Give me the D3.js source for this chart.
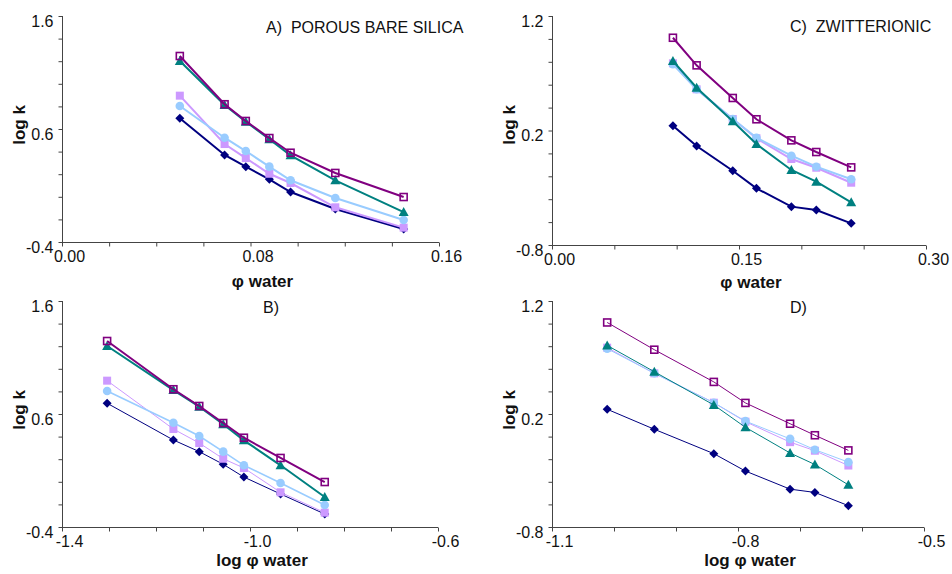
<!DOCTYPE html>
<html>
<head>
<meta charset="utf-8">
<script src="https://cdn.jsdelivr.net/npm/d3@7"></script>
<style>
  body { margin: 0; background: #fff; }
  svg { display: block; font-family: "Liberation Sans", Arial, sans-serif; }
</style>
</head>
<body>
<div id="chart"></div>
<script>
var w = 952;
var h = 574;

// x values
var phiBare = [0.050, 0.069, 0.078, 0.088, 0.097, 0.116, 0.145];
var logPhiBare = [-1.304, -1.163, -1.108, -1.057, -1.013, -0.935, -0.841];
var phiZwit = [0.097, 0.116, 0.145, 0.164, 0.192, 0.212, 0.240];
var logPhiZwit = [-1.011, -0.935, -0.839, -0.788, -0.716, -0.676, -0.622];

// log k, porous bare silica (panels A and B)
var bareNavy = [0.695, 0.370, 0.267, 0.155, 0.042, -0.108, -0.285];
var bareLilac = [0.895, 0.467, 0.343, 0.204, 0.122, -0.093, -0.273];
var bareSky = [0.804, 0.523, 0.405, 0.267, 0.146, -0.011, -0.205];
var bareTeal = [1.202, 0.812, 0.665, 0.509, 0.367, 0.146, -0.135];
var barePurple = [1.246, 0.819, 0.671, 0.520, 0.390, 0.211, -0.002];

// log k, zwitterionic (panels C and D)
var zwitNavy = [0.242, 0.065, -0.151, -0.305, -0.465, -0.494, -0.611];
var zwitLilac = [0.787, 0.560, 0.300, 0.132, -0.049, -0.125, -0.256];
var zwitSky = [0.778, 0.560, 0.300, 0.137, -0.020, -0.116, -0.226];
var zwitTeal = [0.807, 0.574, 0.280, 0.082, -0.145, -0.247, -0.427];
var zwitPurple = [1.010, 0.769, 0.484, 0.298, 0.114, 0.012, -0.122];

// series styles (drawing order: first is at the bottom)
var seriesStyle = [
  { color: "#000080", marker: "diamond" },
  { color: "#cc99ff", marker: "square" },
  { color: "#99ccff", marker: "circle" },
  { color: "#008080", marker: "triangle" },
  { color: "#800080", marker: "open" }
];

var panels = [
  { name: "A)  POROUS BARE SILICA", nameX: 266, nameY: 33,
    left: 62, right: 439, top: 16, bottom: 242, titleY: 287,
    xDom: [0, 0.16], xStep: 0.02, xLabels: [0, 0.08, 0.16], xFmt: ".2f",
    yDom: [-0.4, 1.6], yStep: 0.2, yLabels: [-0.4, 0.6, 1.6],
    xTitle: "φ water", xs: phiBare,
    ys: [bareNavy, bareLilac, bareSky, bareTeal, barePurple],
    widths: [2, 2, 2, 2, 2] },
  { name: "B)", nameX: 263, nameY: 313,
    left: 62, right: 438, top: 301, bottom: 527, titleY: 566,
    xDom: [-1.4, -0.6], xStep: 0.1, xLabels: [-1.4, -1.0, -0.6], xFmt: ".1f",
    yDom: [-0.4, 1.6], yStep: 0.2, yLabels: [-0.4, 0.6, 1.6],
    xTitle: "log φ water", xs: logPhiBare,
    ys: [bareNavy, bareLilac, bareSky, bareTeal, barePurple],
    widths: [1, 1, 1.6, 2, 2] },
  { name: "C)  ZWITTERIONIC", nameX: 790, nameY: 32,
    left: 552, right: 926, top: 16, bottom: 245, titleY: 288,
    xDom: [0, 0.30], xStep: 0.05, xLabels: [0, 0.15, 0.30], xFmt: ".2f",
    yDom: [-0.8, 1.2], yStep: 0.2, yLabels: [-0.8, 0.2, 1.2],
    xTitle: "φ water", xs: phiZwit,
    ys: [zwitNavy, zwitLilac, zwitSky, zwitTeal, zwitPurple],
    widths: [2, 2, 2, 2, 2] },
  { name: "D)", nameX: 790, nameY: 313,
    left: 552, right: 924, top: 301, bottom: 527, titleY: 566,
    xDom: [-1.1, -0.5], xStep: 0.1, xLabels: [-1.1, -0.8, -0.5], xFmt: ".1f",
    yDom: [-0.8, 1.2], yStep: 0.2, yLabels: [-0.8, 0.2, 1.2],
    xTitle: "log φ water", xs: logPhiZwit,
    ys: [zwitNavy, zwitLilac, zwitSky, zwitTeal, zwitPurple],
    widths: [1, 1, 1, 1, 1] }
];

var svg = d3.select("#chart")
  .append("svg")
  .attr("width", w)
  .attr("height", h);

function isLabel(list, v) {
  return list.some(function (l) { return Math.abs(l - v) < 1e-6; });
}

function drawMarker(g, kind, color, x, y) {
  if (kind == "diamond") {
    g.append("path")
      .attr("d", "M" + x + "," + (y - 4.5) + "L" + (x + 4.5) + "," + y + "L" + x + "," + (y + 4.5) + "L" + (x - 4.5) + "," + y + "Z")
      .attr("fill", color);
  } else if (kind == "square") {
    g.append("rect")
      .attr("x", x - 4).attr("y", y - 4)
      .attr("width", 8).attr("height", 8)
      .attr("fill", color);
  } else if (kind == "circle") {
    g.append("circle")
      .attr("cx", x).attr("cy", y).attr("r", 4.3)
      .attr("fill", color);
  } else if (kind == "triangle") {
    g.append("path")
      .attr("d", "M" + x + "," + (y - 5) + "L" + (x + 5) + "," + (y + 4) + "L" + (x - 5) + "," + (y + 4) + "Z")
      .attr("fill", color);
  } else {
    g.append("rect")
      .attr("x", x - 3.5).attr("y", y - 3.5)
      .attr("width", 7).attr("height", 7)
      .attr("fill", "none")
      .attr("stroke", color)
      .attr("stroke-width", 1.6);
  }
}

panels.forEach(function (p) {
  var x = d3.scaleLinear().domain(p.xDom).range([p.left, p.right]);
  var y = d3.scaleLinear().domain(p.yDom).range([p.bottom, p.top]);

  var xTicks = d3.range(p.xDom[0], p.xDom[1] + p.xStep / 2, p.xStep);
  var yTicks = d3.range(p.yDom[0], p.yDom[1] + p.yStep / 2, p.yStep);
  var fx = d3.format(p.xFmt);
  var fy = d3.format(".1f");

  var g = svg.append("g");

  // x axis
  var xAxis = g.append("g")
    .attr("transform", "translate(0," + (p.bottom + 0.5) + ")")
    .call(d3.axisBottom(x)
      .tickValues(xTicks)
      .tickSize(4)
      .tickPadding(4)
      .tickFormat(function (d) { return isLabel(p.xLabels, d) ? fx(d).replace("−", "-") : ""; }));
  xAxis.select(".domain").attr("stroke", "#444").attr("d", "M" + p.left + ",0H" + p.right);
  xAxis.selectAll("line").attr("stroke", "#444");
  xAxis.selectAll("text")
    .attr("font-size", 16)
    .attr("font-family", "Liberation Sans, Arial, sans-serif")
    .attr("fill", "#111")
    .attr("dx", 7);

  // y axis
  var yAxis = g.append("g")
    .attr("transform", "translate(" + (p.left + 0.5) + ",0)")
    .call(d3.axisLeft(y)
      .tickValues(yTicks)
      .tickSize(4)
      .tickPadding(5)
      .tickFormat(function (d) { return isLabel(p.yLabels, d) ? fy(d).replace("−", "-") : ""; }));
  yAxis.select(".domain").attr("stroke", "#444").attr("d", "M0," + p.top + "V" + p.bottom);
  yAxis.selectAll("line").attr("stroke", "#444");
  yAxis.selectAll("text")
    .attr("font-size", 16)
    .attr("font-family", "Liberation Sans, Arial, sans-serif")
    .attr("fill", "#111")
    .attr("dy", "0.65em");

  // series
  p.ys.forEach(function (vals, i) {
    var st = seriesStyle[i];
    var pts = vals.map(function (v, j) { return [p.xs[j], v]; });
    g.append("path")
      .datum(pts)
      .attr("fill", "none")
      .attr("stroke", st.color)
      .attr("stroke-width", p.widths[i])
      .attr("d", d3.line().x(function (d) { return x(d[0]); }).y(function (d) { return y(d[1]); }));
    pts.forEach(function (d) {
      drawMarker(g, st.marker, st.color, x(d[0]), y(d[1]));
    });
  });

  // panel name
  g.append("text")
    .attr("x", p.nameX)
    .attr("y", p.nameY)
    .attr("font-size", 16)
    .attr("fill", "#111")
    .attr("xml:space", "preserve")
    .style("white-space", "pre")
    .text(p.name);

  // axis titles
  g.append("text")
    .attr("x", (p.left + p.right) / 2 + 12)
    .attr("y", p.titleY)
    .attr("text-anchor", "middle")
    .attr("font-size", 17)
    .attr("font-weight", "bold")
    .attr("fill", "#111")
    .text(p.xTitle);

  g.append("text")
    .attr("transform", "translate(" + (p.left - 37) + "," + (p.top + 109) + ") rotate(-90)")
    .attr("text-anchor", "middle")
    .attr("font-size", 17)
    .attr("font-weight", "bold")
    .attr("fill", "#111")
    .text("log k");
});
</script>
</body>
</html>
